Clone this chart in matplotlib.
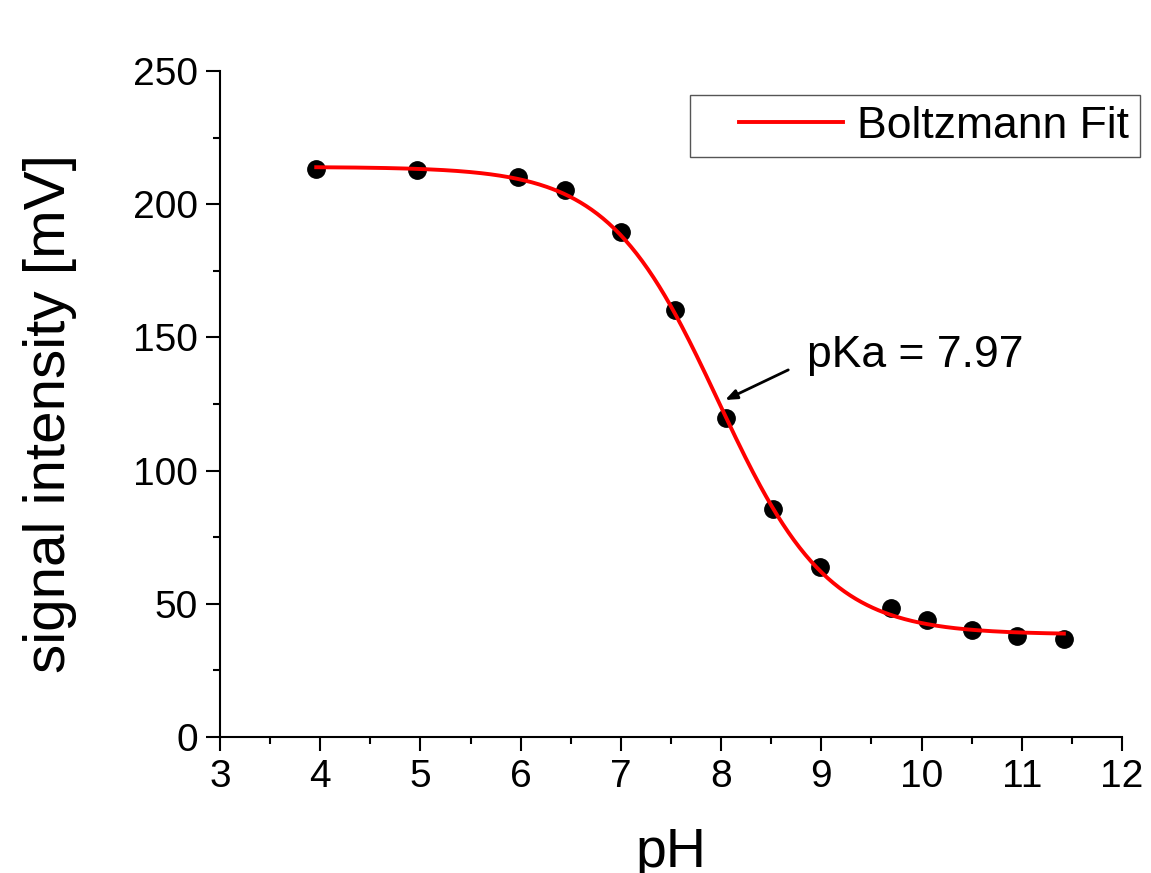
import numpy as np
import matplotlib
matplotlib.use("Agg")
import matplotlib.pyplot as plt
from matplotlib.ticker import MultipleLocator
from matplotlib.legend_handler import HandlerLine2D

plt.rcParams['font.family'] = ['Liberation Sans', 'DejaVu Sans']

# measured points
ph = [3.96, 4.97, 5.97, 6.44, 7.00, 7.54, 8.05, 8.52, 8.99, 9.70, 10.05, 10.50, 10.95, 11.42]
signal = [213.3, 212.8, 210.3, 205.3, 189.7, 160.3, 119.6, 85.5, 63.7, 48.3, 43.9, 40.2, 37.9, 36.8]

# Boltzmann fit parameters
A1 = 214.0
A2 = 38.5
x0 = 7.97
dx = 0.55
fit_start, fit_end = 3.96, 11.42

x_ticks = [3, 4, 5, 6, 7, 8, 9, 10, 11, 12]
y_ticks = [0, 50, 100, 150, 200, 250]

fig = plt.figure(figsize=(11.51, 8.73), dpi=100)
ax = fig.add_axes([220 / 1151, 1 - 737 / 873, 902 / 1151, 666 / 873])

xf = np.linspace(fit_start, fit_end, 400)
yf = A2 + (A1 - A2) / (1 + np.exp((xf - x0) / dx))

ax.plot(ph, signal, 'o', color='black', markersize=12.5, zorder=2)
line, = ax.plot(xf, yf, color='red', lw=2.8, label='Boltzmann Fit', zorder=3)

ax.set_xlim(3, 12)
ax.set_ylim(0, 250)
ax.set_xticks(x_ticks)
ax.set_yticks(y_ticks)
ax.xaxis.set_minor_locator(MultipleLocator(0.5))
ax.yaxis.set_minor_locator(MultipleLocator(25))

for side in ['top', 'right']:
    ax.spines[side].set_visible(False)
for side in ['left', 'bottom']:
    ax.spines[side].set_linewidth(1.5)
    ax.spines[side].set_color('black')

ax.tick_params(which='major', direction='out', length=10, width=1.5, labelsize=28, pad=6)
ax.tick_params(which='minor', direction='out', length=5, width=1.5)

ax.set_xlabel('pH', fontsize=40)
ax.xaxis.set_label_coords(0.5, -0.135)
ax.set_ylabel('signal intensity [mV]', fontsize=42)
ax.yaxis.set_label_coords(-0.159, 0.486)

# pKa annotation
ax.text(8.86, 139, 'pKa = 7.97', fontsize=32, ha='left', va='baseline')
ax.annotate('', xy=(8.04, 126.5), xytext=(8.67, 137.8),
            arrowprops=dict(arrowstyle='-|>,head_length=0.7,head_width=0.28',
                            color='black', lw=2, shrinkA=0, shrinkB=0))

leg = ax.legend(handles=[line], loc='upper left',
                bbox_to_anchor=(690 / 1151, 1 - 95 / 873), bbox_transform=fig.transFigure,
                fontsize=32, frameon=True, fancybox=False, framealpha=1,
                borderpad=0.24, borderaxespad=0, handlelength=3.2, handletextpad=0.32,
                handler_map={line: HandlerLine2D(xpad=0.86)})
leg.get_frame().set_edgecolor('#555555')
leg.get_frame().set_linewidth(1.0)

fig.savefig('out.png', dpi=100)
